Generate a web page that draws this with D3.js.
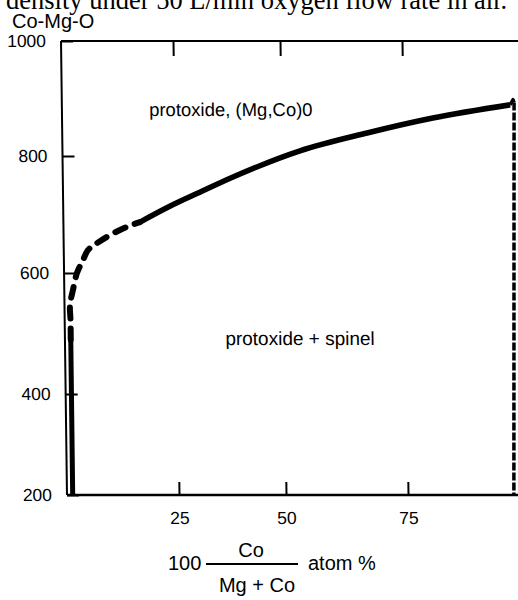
<!DOCTYPE html>
<html lang="en">
<head>
	<meta charset="UTF-8">
	<title>Co-Mg-O</title>
	<script src="https://cdn.jsdelivr.net/npm/d3@7"></script>
	<style>
		body { margin: 0; background: #fff; }
		text { font-family: "Liberation Sans", Arial, sans-serif; fill: #000; }
		.axis path, .axis line { stroke: #000; stroke-width: 2px; }
		.axis text { font-size: 17.5px; }
	</style>
</head>
<body>
<script>
	// values (x: 100 Co/(Mg+Co) atom %, t: temperature)
	var xTicks = [25, 50, 75];
	var tTicks = [200, 400, 600, 800, 1000];

	// protoxide / protoxide + spinel boundary, lower solid part
	var lowX = [1.27, 1.3];
	var lowT = [200, 490];
	// dashed part
	var dashX = [1.3, 1.3, 1.23, 1.94, 2.88, 4.26, 5.4, 7.43, 10.4, 14.2, 17.1];
	var dashT = [490, 522, 547, 572, 600, 622, 639, 651, 665, 679, 687];
	// solid upper part
	var highX = [17.1, 23.8, 30.8, 38.6, 53.8, 67.6, 81.1, 97.0];
	var highT = [687, 714, 738, 764, 809, 840, 866, 889];
	// small peak where it meets the right hand boundary
	var peakX = [97.0, 97.6, 97.8];
	var peakT = [889, 898, 893];
	// right hand dashed boundary
	var rightX = [97.8, 96.7];
	var rightT = [893, 200];

	var regionLabels = ["protoxide, (Mg,Co)0", "protoxide + spinel"];

	var width = 518, height = 600;

	var svg = d3.select("body")
				.append("svg")
				.attr("width", width)
				.attr("height", height);

	// the scanned frame is slightly sheared, so the plot group is skewed a bit
	var g = svg.append("g")
			   .attr("transform", "translate(0,41) skewX(0.757)");

	var x = d3.scaleLinear().domain([0, 25, 50, 75]).range([61, 173, 280, 402]);
	var y = d3.scaleLinear().domain(tTicks).range([454, 353, 232, 115, 0]);

	function lineWith(curve) {
		return d3.line()
			.x(function(d) { return x(d[0]); })
			.y(function(d) { return y(d[1]); })
			.curve(curve);
	}
	var straight = lineWith(d3.curveLinear);

	function pts(xs, ts) { return xs.map(function(v, i) { return [v, ts[i]]; }); }

	// axes (ticks point inwards)
	g.append("g")
	 .attr("class", "axis")
	 .attr("transform", "translate(" + x(0) + ",0)")
	 .call(d3.axisLeft(y).tickValues(tTicks).tickSize(-12).tickSizeOuter(0).tickPadding(15).tickFormat(d3.format("d")));

	g.append("g")
	 .attr("class", "axis")
	 .attr("transform", "translate(0," + y(200) + ")")
	 .call(d3.axisBottom(x).tickValues(xTicks).tickSize(-13).tickSizeOuter(0).tickPadding(17));

	g.append("g")
	 .attr("class", "axis")
	 .attr("transform", "translate(0," + y(1000) + ")")
	 .call(d3.axisTop(x).tickValues(xTicks).tickSize(-15).tickSizeOuter(0).tickFormat(""));

	// frame lines run on to the right edge of the scan
	g.selectAll(".axis .domain").remove();
	g.append("path").attr("d", straight([[0, 200], [105, 200]]))
	 .attr("stroke", "#000").attr("stroke-width", 2.5).attr("fill", "none");
	g.append("path").attr("d", straight([[0, 1000], [105, 1000]]))
	 .attr("stroke", "#000").attr("stroke-width", 2).attr("fill", "none");
	g.append("path").attr("d", straight([[0, 200], [0, 1000]]))
	 .attr("stroke", "#000").attr("stroke-width", 2).attr("fill", "none");

	// boundary curves
	g.append("path")
	 .attr("d", straight(pts(lowX, lowT)))
	 .attr("fill", "none").attr("stroke", "#000").attr("stroke-width", 5);

	g.append("path")
	 .attr("d", lineWith(d3.curveCatmullRom)(pts(dashX, dashT)))
	 .attr("fill", "none").attr("stroke", "#000").attr("stroke-width", 6)
	 .attr("stroke-linecap", "round").attr("stroke-dasharray", "11,10");

	g.append("path")
	 .attr("d", lineWith(d3.curveMonotoneX)(pts(highX, highT)))
	 .attr("fill", "none").attr("stroke", "#000").attr("stroke-width", 5.5)
	 .attr("stroke-linejoin", "round");

	g.append("path")
	 .attr("d", straight(pts(peakX, peakT)))
	 .attr("fill", "none").attr("stroke", "#000").attr("stroke-width", 3.5)
	 .attr("stroke-linejoin", "round");

	g.append("path")
	 .attr("d", straight(pts(rightX, rightT)))
	 .attr("fill", "none").attr("stroke", "#000").attr("stroke-width", 3.5)
	 .attr("stroke-dasharray", "8,2");

	// region labels
	g.append("text")
	 .attr("x", x(38.3)).attr("y", y(870))
	 .attr("text-anchor", "middle").style("font-size", "18.5px")
	 .text(regionLabels[0]);
	g.append("text")
	 .attr("x", x(53.3)).attr("y", y(481))
	 .attr("text-anchor", "middle").style("font-size", "19px")
	 .text(regionLabels[1]);

	// cropped caption at the top of the scan
	svg.append("text")
	   .attr("x", 6).attr("y", 9)
	   .style("font-family", "'Liberation Serif', 'Times New Roman', serif")
	   .style("font-size", "26.5px")
	   .text("density under 50 L/min oxygen flow rate in air.");

	svg.append("text")
	   .attr("x", 12).attr("y", 28)
	   .style("font-size", "20px")
	   .text("Co-Mg-O");

	// x axis title: 100 Co/(Mg+Co) atom %
	var xt = svg.append("g");
	xt.append("text").attr("x", 168).attr("y", 570).style("font-size", "20px").text("100");
	xt.append("line").attr("x1", 206).attr("x2", 298).attr("y1", 564).attr("y2", 564)
	  .attr("stroke", "#000").attr("stroke-width", 2);
	xt.append("text").attr("x", 251).attr("y", 557).attr("text-anchor", "middle").style("font-size", "20px").text("Co");
	xt.append("text").attr("x", 257).attr("y", 592).attr("text-anchor", "middle").style("font-size", "20px").text("Mg + Co");
	xt.append("text").attr("x", 308).attr("y", 570).style("font-size", "20px").text("atom %");
</script>
</body>
</html>
